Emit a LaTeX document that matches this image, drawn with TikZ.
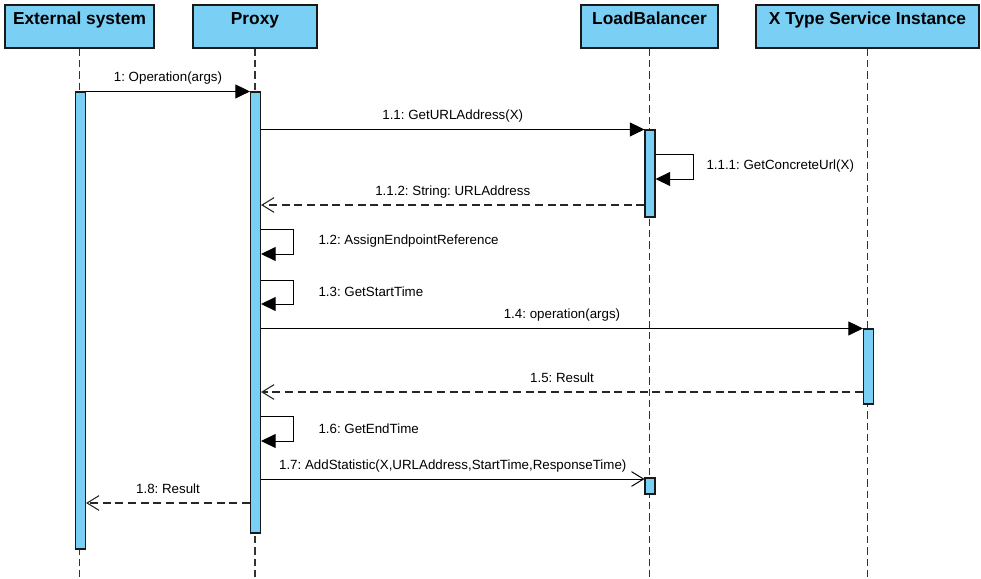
\documentclass[tikz,border=0pt]{standalone}
\usepackage{fontspec}
\setmainfont{Liberation Sans}
\usepackage{xcolor}
\usepackage{tikz}
\usetikzlibrary{positioning,calc,fit,arrows.meta}

\definecolor{lifeblue}{RGB}{122,207,245}
\frenchspacing

\tikzset{
	headbox/.style={draw=black!90, line width=0.9pt, fill=lifeblue, inner sep=0pt},
	headtext/.style={font=\fontsize{13}{15}\selectfont\bfseries, inner sep=0pt, anchor=base},
	actbar/.style={draw=black!90, line width=0.8pt, fill=lifeblue, inner sep=0pt},
	lifeline/.style={draw=black!80, line width=0.8pt, dash pattern=on 5.5pt off 3pt},
	call/.style={line width=0.75pt, -{Triangle[length=11pt,width=10.5pt]}},
	signal/.style={line width=0.75pt, -{Straight Barb[length=9pt,width=11pt]}},
	reply/.style={line width=0.8pt, draw=black!85, dash pattern=on 6pt off 3.5pt, -{Straight Barb[length=9pt,width=11pt]}},
	msgtext/.style={font=\fontsize{10}{12}\selectfont, inner sep=0pt},
}

\begin{document}
\begin{tikzpicture}[x=0.75pt,y=-0.75pt]
	\useasboundingbox (0,0) rectangle (981,578);
	\coordinate (bottom) at (0,578);
	
	% heads
	\node[headbox, fit={(5,5)(154,48)}] (hExt) {};
	\node[headbox, fit={(193,5)(317,48)}] (hProxy) {};
	\node[headbox, fit={(581,5)(718,48)}] (hLB) {};
	\node[headbox, fit={(756,5)(979,48)}] (hSvc) {};
	\node[headtext] at ($(hExt.north)+(0,20.5)$) {External system};
	\node[headtext] at ($(hProxy.north)+(0,20.5)$) {Proxy};
	\node[headtext] at ($(hLB.north)+(0,20.5)$) {LoadBalancer};
	\node[headtext] at ($(hSvc.north)+(0,20.5)$) {X Type Service Instance};
	
	% lifelines
	\foreach \h in {hExt,hProxy,hLB,hSvc}
		\draw[lifeline] (\h.south) -- (\h.south |- bottom);
	
	% activations
	\node[actbar, fit={(75.5,92)(85.5,549)}] (barExt) {};
	\node[actbar, fit={(250.5,92)(260.5,533)}] (barProxy) {};
	\node[actbar, fit={(645,130)(655,217)}] (barLB) {};
	\node[actbar, fit={(863.5,329)(873.5,404)}] (barSvc) {};
	\node[actbar, fit={(645,478)(655,494)}] (barStat) {};
	
	% rows
	\coordinate (r112) at (0,205);
	\coordinate (r15) at (0,392);
	\coordinate (r17) at (0,479);
	\coordinate (r18) at (0,503);
	\coordinate (loopLB) at (693,154);
	\coordinate (loopLBb) at (693,179);
	\coordinate (loop12) at (293,229);
	\coordinate (loop12b) at (293,254);
	\coordinate (loop13) at (293,280);
	\coordinate (loop13b) at (293,304);
	\coordinate (loop16) at (293,416);
	\coordinate (loop16b) at (293,441);
	
	% messages
	\draw[call] (barExt.north east) -- (barProxy.north west)
		node[midway, msgtext, anchor=base, yshift=7.5pt] {1: Operation(args)};
	\draw[call] (barProxy.east |- barLB.north west) -- (barLB.north west)
		node[midway, msgtext, anchor=base, yshift=7.5pt] {1.1: GetURLAddress(X)};
	\draw[call] (barLB.east |- loopLB) -- (loopLB) -- (loopLBb)
		node[midway, msgtext, anchor=west, xshift=9.75pt] {1.1.1: GetConcreteUrl(X)}
		-- (barLB.east |- loopLBb);
	\draw[reply] (barLB.west |- r112) -- (barProxy.east |- r112)
		node[midway, msgtext, anchor=base, yshift=7.5pt] {1.1.2: String: URLAddress};
	\draw[call] (barProxy.east |- loop12) -- (loop12) -- (loop12b)
		node[midway, msgtext, anchor=west, xshift=18.75pt] {1.2: AssignEndpointReference}
		-- (barProxy.east |- loop12b);
	\draw[call] (barProxy.east |- loop13) -- (loop13) -- (loop13b)
		node[midway, msgtext, anchor=west, xshift=18.75pt] {1.3: GetStartTime}
		-- (barProxy.east |- loop13b);
	\draw[call] (barProxy.east |- barSvc.north west) -- (barSvc.north west)
		node[midway, msgtext, anchor=base, yshift=7.5pt] {1.4: operation(args)};
	\draw[reply] (barSvc.west |- r15) -- (barProxy.east |- r15)
		node[midway, msgtext, anchor=base, yshift=7.5pt] {1.5: Result};
	\draw[call] (barProxy.east |- loop16) -- (loop16) -- (loop16b)
		node[midway, msgtext, anchor=west, xshift=18.75pt] {1.6: GetEndTime}
		-- (barProxy.east |- loop16b);
	\draw[signal] (barProxy.east |- r17) -- (barStat.west |- r17)
		node[midway, msgtext, anchor=base, yshift=7.5pt] {1.7: AddStatistic(X,URLAddress,StartTime,ResponseTime)};
	\draw[reply] (barProxy.west |- r18) -- (barExt.east |- r18)
		node[midway, msgtext, anchor=base, yshift=7.5pt] {1.8: Result};
\end{tikzpicture}
\end{document}
